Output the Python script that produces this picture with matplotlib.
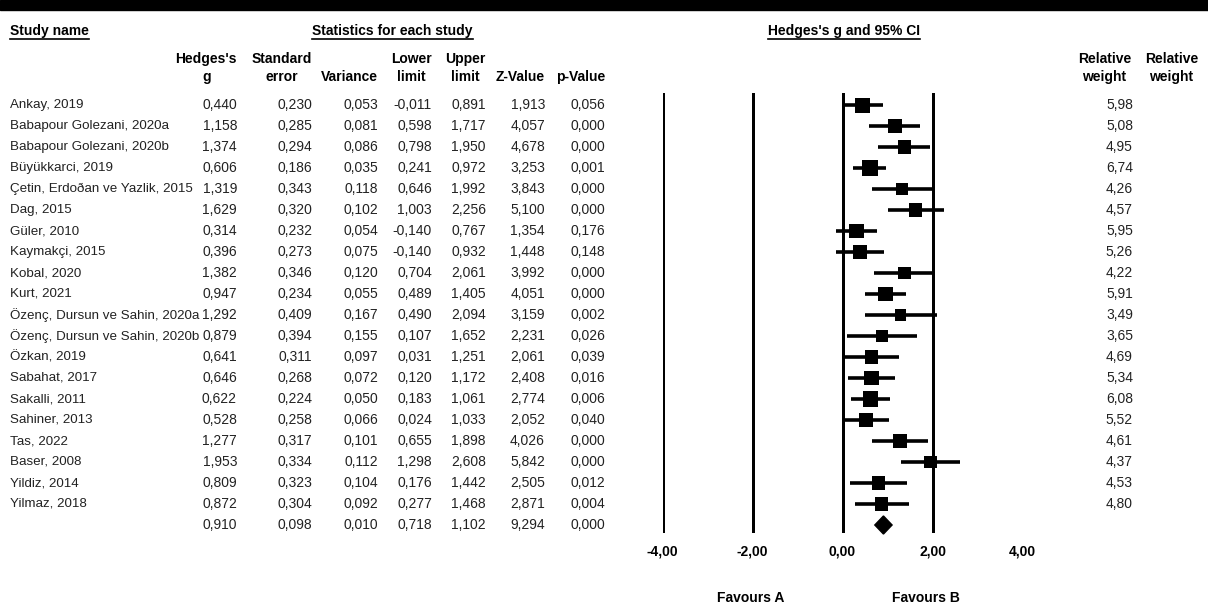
import matplotlib
matplotlib.use("Agg")
import matplotlib.pyplot as plt
from matplotlib.patches import Rectangle

studies = ["Ankay, 2019", "Babapour Golezani, 2020a", "Babapour Golezani, 2020b",
           "Büyükkarci, 2019", "Çetin, Erdoðan ve Yazlik, 2015", "Dag, 2015",
           "Güler, 2010", "Kaymakçi, 2015", "Kobal, 2020", "Kurt, 2021",
           "Özenç, Dursun ve Sahin, 2020a", "Özenç, Dursun ve Sahin, 2020b",
           "Özkan, 2019", "Sabahat, 2017", "Sakalli, 2011", "Sahiner, 2013",
           "Tas, 2022", "Baser, 2008", "Yildiz, 2014", "Yilmaz, 2018"]
hedges_g = [0.440, 1.158, 1.374, 0.606, 1.319, 1.629, 0.314, 0.396, 1.382, 0.947,
            1.292, 0.879, 0.641, 0.646, 0.622, 0.528, 1.277, 1.953, 0.809, 0.872]
std_err = [0.230, 0.285, 0.294, 0.186, 0.343, 0.320, 0.232, 0.273, 0.346, 0.234,
           0.409, 0.394, 0.311, 0.268, 0.224, 0.258, 0.317, 0.334, 0.323, 0.304]
variance = [0.053, 0.081, 0.086, 0.035, 0.118, 0.102, 0.054, 0.075, 0.120, 0.055,
            0.167, 0.155, 0.097, 0.072, 0.050, 0.066, 0.101, 0.112, 0.104, 0.092]
lower = [-0.011, 0.598, 0.798, 0.241, 0.646, 1.003, -0.140, -0.140, 0.704, 0.489,
         0.490, 0.107, 0.031, 0.120, 0.183, 0.024, 0.655, 1.298, 0.176, 0.277]
upper = [0.891, 1.717, 1.950, 0.972, 1.992, 2.256, 0.767, 0.932, 2.061, 1.405,
         2.094, 1.652, 1.251, 1.172, 1.061, 1.033, 1.898, 2.608, 1.442, 1.468]
z_value = [1.913, 4.057, 4.678, 3.253, 3.843, 5.100, 1.354, 1.448, 3.992, 4.051,
           3.159, 2.231, 2.061, 2.408, 2.774, 2.052, 4.026, 5.842, 2.505, 2.871]
p_value = [0.056, 0.000, 0.000, 0.001, 0.000, 0.000, 0.176, 0.148, 0.000, 0.000,
           0.002, 0.026, 0.039, 0.016, 0.006, 0.040, 0.000, 0.000, 0.012, 0.004]
rel_weight = [5.98, 5.08, 4.95, 6.74, 4.26, 4.57, 5.95, 5.26, 4.22, 5.91,
              3.49, 3.65, 4.69, 5.34, 6.08, 5.52, 4.61, 4.37, 4.53, 4.80]
# summary row: g, se, var, lower, upper, z, p
summary = [0.910, 0.098, 0.010, 0.718, 1.102, 9.294, 0.000]

ticks = [-4, -2, 0, 2, 4]
tick_labels = ["-4,00", "-2,00", "0,00", "2,00", "4,00"]

W, H = 1208, 610
plt.rcParams["font.family"] = ["Liberation Sans", "DejaVu Sans"]
FS = 10
TXT = "#222222"

def fmt(v, d=3):
    return f"{v:.{d}f}".replace(".", ",")

fig = plt.figure(figsize=(W / 100, H / 100), dpi=100)
bg = fig.add_axes([0, 0, 1, 1])
bg.set_xlim(0, W)
bg.set_ylim(H, 0)
bg.axis("off")

# top black band
bg.add_patch(Rectangle((0, 0), W, 10, color="black"))

row0, dy = 105, 21
def row_y(i):
    return row0 + dy * i

# underlined titles
titles = [("Study name", 10), ("Statistics for each study", 312), ("Hedges's g and 95% CI", 768)]
title_objs = []
for t, x in titles:
    o = bg.text(x, 31, t, ha="left", va="center", fontsize=FS, fontweight="bold", color="black")
    title_objs.append(o)

# column headers (right edge of column)
col_right = [237, 312, 378, 432, 486, 545, 605]
col_heads = ["Hedges's\ng", "Standard\nerror", "Variance", "Lower\nlimit", "Upper\nlimit", "Z-Value", "p-Value"]
for x, h in zip(col_right, col_heads):
    if "\n" in h:
        bg.text(x, 68, h, ha="right", va="center", multialignment="center",
                fontsize=FS, fontweight="bold", linespacing=1.45)
    else:
        bg.text(x, 77, h, ha="right", va="center", fontsize=FS, fontweight="bold")
for x in [1131, 1198]:
    bg.text(x, 68, "Relative\nweight", ha="right", va="center", multialignment="center",
            fontsize=FS, fontweight="bold", linespacing=1.45)

# table rows
cols = [hedges_g, std_err, variance, lower, upper, z_value, p_value]
for i, name in enumerate(studies):
    y = row_y(i)
    bg.text(10, y, name, ha="left", va="center", fontsize=9.6, color=TXT)
    for x, c in zip(col_right, cols):
        bg.text(x, y, fmt(c[i]), ha="right", va="center", fontsize=FS, color=TXT)
    bg.text(1133, y, fmt(rel_weight[i], 2), ha="right", va="center", fontsize=FS, color=TXT)
ys = row_y(len(studies))
for x, v in zip(col_right, summary):
    bg.text(x, ys, fmt(v), ha="right", va="center", fontsize=FS, color=TXT)

bg.text(751, 598, "Favours A", ha="center", va="center", fontsize=FS, fontweight="bold")
bg.text(926, 598, "Favours B", ha="center", va="center", fontsize=FS, fontweight="bold")

# forest panel: x -4..4 -> 662..1022 px, lines from y 93 to 533 px
top_px, bot_px = 93, 533
x_left = 662.5
ax = fig.add_axes([x_left / W, (H - bot_px) / H, 360 / W, (bot_px - top_px) / H])
ax.set_xlim(-4, 4)
ax.set_ylim((bot_px - row0) / dy, (top_px - row0) / dy)
ax.patch.set_alpha(0)
for s in ax.spines.values():
    s.set_visible(False)
ax.set_yticks([])
ax.set_xticks(ticks)
ax.set_xticklabels(tick_labels, fontweight="bold", fontsize=FS)
ax.tick_params(axis="x", length=0, pad=8)
for t in ticks:
    ax.axvline(t, color="black", lw=2.16, zorder=1)

rows = list(range(len(studies)))
ax.hlines(rows, lower, upper, color="black", lw=2.6, zorder=3, clip_on=False)
sizes = [(15 * (w / 5.98) ** 0.5 * 0.72) ** 2 for w in rel_weight]
ax.scatter(hedges_g, rows, marker="s", s=sizes, color="black", zorder=4, clip_on=False,
           linewidths=0)
n = len(studies)
g_s, lo_s, up_s = summary[0], summary[3], summary[4]
ax.fill([lo_s, g_s, up_s, g_s], [n, n - 0.43, n, n + 0.43], color="black", zorder=4,
        clip_on=False)

# underline the titles to their own text width
fig.canvas.draw()
r = fig.canvas.get_renderer()
inv = bg.transData.inverted()
for o in title_objs:
    bb = o.get_window_extent(r)
    (x0, _), (x1, _) = inv.transform([(bb.x0, bb.y0), (bb.x1, bb.y1)])
    bg.plot([x0, x1], [39, 39], color="black", lw=1.2)

fig.savefig("out.png", dpi=100)
